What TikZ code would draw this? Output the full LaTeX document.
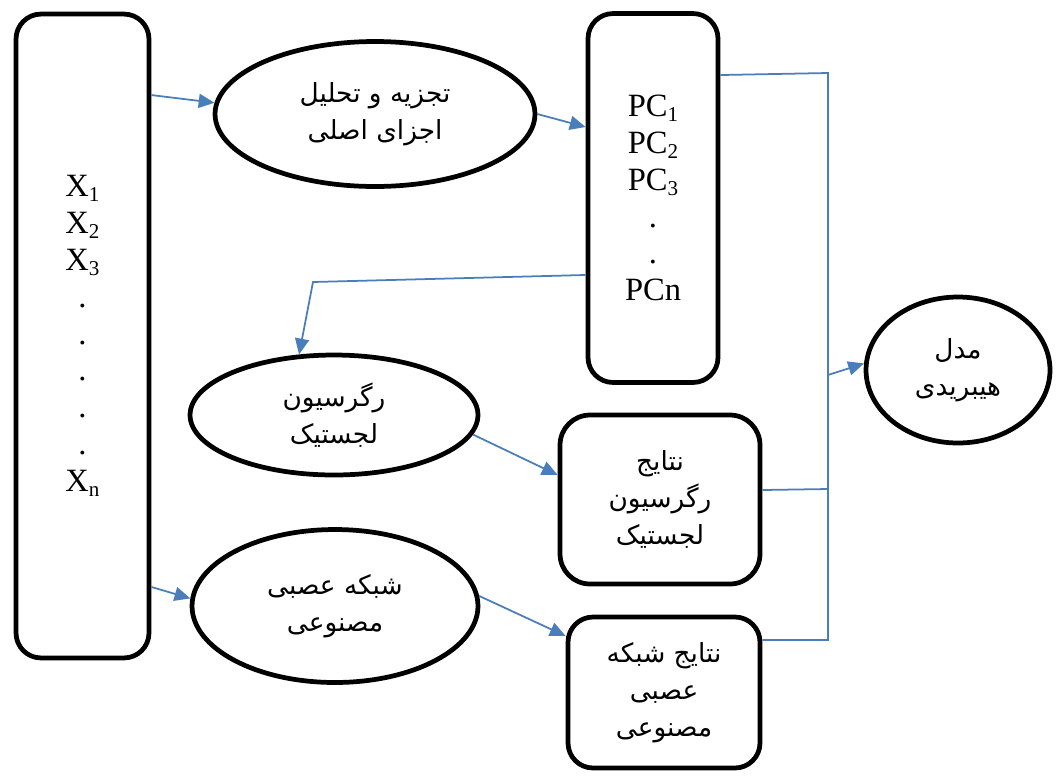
\documentclass[tikz,border=0pt]{standalone}
\usepackage{fontspec}
\setmainfont{Liberation Serif}
\newfontfamily\arabicfont[Script=Arabic]{DejaVu Sans}
\TeXXeTstate=1
\usetikzlibrary{shapes.geometric,arrows.meta}
\definecolor{lineblue}{HTML}{4A7EBB}
\newcommand\fa[1]{{\arabicfont\beginR #1\endR}}
\newcommand\sbs[1]{\raisebox{-0.35ex}{\fontsize{12}{12}\selectfont #1}}
\begin{document}
\begin{tikzpicture}[x=0.02cm,y=-0.02cm,
 box/.style={draw, line width=2.7pt, rounded corners=0.5cm, align=center, inner sep=0pt},
 ell/.style={draw, ellipse, line width=2.7pt, align=center, inner sep=0pt},
 conn/.style={draw=lineblue, line width=1pt},
 arr/.style={conn, -{Triangle[length=9pt,width=8pt]}},
 lat/.style={font=\fontsize{18.5}{21}\selectfont},
 ara/.style={font=\fontsize{15}{21}\selectfont}
]
\useasboundingbox (0,0) rectangle (1060,775);

% nodes
\node[box, lat, minimum width=2.66cm, minimum height=12.88cm] (L) at (82.5,336)
  {X\sbs{1}\\X\sbs{2}\\X\sbs{3}\\.\\.\\.\\.\\.\\X\sbs{n}};
\node[ell, ara, minimum width=6.4cm, minimum height=2.9cm] (topE) at (375,114)
  {\fa{تجزیه و تحلیل}\\\fa{اجزای اصلی}};
\node[box, lat, minimum width=2.6cm, minimum height=7.38cm] (PC) at (653,198)
  {PC\sbs{1}\\PC\sbs{2}\\PC\sbs{3}\\.\\.\\PCn};
\node[ell, ara, minimum width=5.76cm, minimum height=2.4cm] (regE) at (334,415)
  {\fa{رگرسیون}\\\fa{لجستیک}};
\node[ell, ara, minimum width=5.72cm, minimum height=3.06cm] (nnE) at (335,606)
  {\fa{شبکه عصبی}\\\fa{مصنوعی}};
\node[box, ara, rounded corners=0.6cm, minimum width=4.0cm, minimum height=3.38cm] (RR) at (660,499.5)
  {\fa{نتایج}\\\fa{رگرسیون}\\\fa{لجستیک}};
\node[box, ara, minimum width=3.84cm, minimum height=3.02cm] (NR) at (664,692.5)
  {\fa{نتایج شبکه}\\\fa{عصبی}\\\fa{مصنوعی}};
\node[ell, ara, minimum width=3.68cm, minimum height=2.92cm] (hyb) at (958,370)
  {\fa{مدل}\\\fa{هیبریدی}};

% junction coordinates
\coordinate (m1) at (828,73);
\coordinate (m2) at (828,375);
\coordinate (mR) at (828,489);
\coordinate (m3) at (828,640);
\coordinate (c1) at (313,282);

% connectors
\draw[arr] ([yshift=4.82cm]L.east) -- (topE.176);
\draw[arr] (topE.east) -- ([yshift=1.42cm]PC.west);
\draw[arr] ([yshift=-1.54cm]PC.west) -- (c1) -- (regE.120);
\draw[arr] (regE.-8) -- ([yshift=0.49cm]RR.west);
\draw[arr] ([yshift=-5.02cm]L.east) -- (nnE.177);
\draw[arr] (nnE.4) -- ([yshift=1.13cm]NR.west);
\draw[conn] ([yshift=2.46cm]PC.east) -- (m1) -- (m3) -- ([yshift=1.05cm]NR.east);
\draw[conn] ([yshift=0.19cm]RR.east) -- (mR);
\draw[arr] (m2) -- (hyb.176);
\end{tikzpicture}
\end{document}
